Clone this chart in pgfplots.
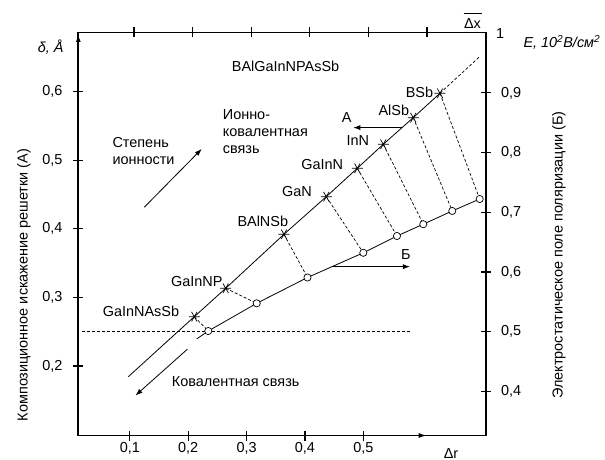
\documentclass[border=0pt]{standalone}
\usepackage{pgfplots}
\pgfplotsset{compat=1.18}
\usepackage{fontspec}
\setmainfont{Liberation Sans}
\usetikzlibrary{arrows.meta}

\begin{document}
\begin{tikzpicture}[font=\fontsize{14.5}{17}\selectfont,
  every node/.append style={inner sep=0pt},
  >={Latex[length=7bp,width=5bp]}]

% main axis: delta (A) against Delta r
\begin{axis}[
  at={(78.3bp,-435.5bp)}, anchor=south west,
  scale only axis, width=407.4bp, height=403.2bp,
  xmin=0.01165, xmax=0.7096, ymin=0.0987, ymax=0.6864,
  axis line style={line width=1.6bp},
  xtick={0.1,0.2,0.3,0.4,0.5},
  xticklabels={{0,1},{0,2},{0,3},{0,4},{0,5}},
  ytick={0.2,0.3,0.4,0.5,0.6},
  yticklabels={{0,2},{0,3},{0,4},{0,5},{0,6}},
  xtick pos=left, ytick pos=left,
  tick align=center, major tick length=10bp,
  tick style={line width=1.2bp, black},
  xticklabel style={anchor=north, yshift=-1.5bp},
  yticklabel style={anchor=east, xshift=-10.6bp},
  clip=false,
]
  % reference level
  \addplot[black, line width=0.7bp, dash pattern=on 3bp off 2bp]
    coordinates {(0.0185,0.25) (0.58,0.25)};

  % star -> circle links
  \addplot[black, line width=0.7bp, dash pattern=on 3bp off 2bp] coordinates {(0.2104,0.2719) (0.2343,0.251)};
  \addplot[black, line width=0.7bp, dash pattern=on 3bp off 2bp] coordinates {(0.2642,0.3133) (0.3173,0.2914)};
  \addplot[black, line width=0.7bp, dash pattern=on 3bp off 2bp] coordinates {(0.364,0.392) (0.4043,0.329)};
  \addplot[black, line width=0.7bp, dash pattern=on 3bp off 2bp] coordinates {(0.4365,0.4468) (0.4999,0.365)};
  \addplot[black, line width=0.7bp, dash pattern=on 3bp off 2bp] coordinates {(0.4896,0.4882) (0.5576,0.3895)};
  \addplot[black, line width=0.7bp, dash pattern=on 3bp off 2bp] coordinates {(0.5341,0.5232) (0.6027,0.4067)};
  \addplot[black, line width=0.7bp, dash pattern=on 3bp off 2bp] coordinates {(0.5855,0.562) (0.6523,0.426)};
  \addplot[black, line width=0.7bp, dash pattern=on 3bp off 2bp] coordinates {(0.6313,0.5975) (0.6993,0.4434)};

  % line A
  \addplot[black, line width=0.8bp] coordinates {
    (0.0973,0.1844) (0.2104,0.2719) (0.2642,0.3133) (0.364,0.392) (0.4365,0.4468)
    (0.4896,0.4882) (0.5341,0.5232) (0.5855,0.562) (0.6313,0.5975)};
  \addplot[black, line width=0.7bp, dash pattern=on 3bp off 2bp]
    coordinates {(0.6313,0.5975) (0.698,0.65)};

  % line B
  \addplot[black, line width=0.8bp] coordinates {
    (0.2145,0.2395) (0.2343,0.251) (0.3173,0.2914) (0.4043,0.329) (0.4999,0.365)
    (0.5576,0.3895) (0.6027,0.4067) (0.6523,0.426) (0.6993,0.4434)};

  % stars (A)
  \addplot[only marks, mark=asterisk, mark size=5.5bp, mark options={black, line width=0.7bp, rotate=90}]
    coordinates {(0.2104,0.2719) (0.2642,0.3133) (0.364,0.392) (0.4365,0.4468)
    (0.4896,0.4882) (0.5341,0.5232) (0.5855,0.562) (0.6313,0.5975)};
  % circles (B)
  \addplot[only marks, mark=*, mark size=3.6bp, mark options={draw=black, fill=white, line width=0.7bp}]
    coordinates {(0.2343,0.251) (0.3173,0.2914) (0.4043,0.329) (0.4999,0.365)
    (0.5576,0.3895) (0.6027,0.4067) (0.6523,0.426) (0.6993,0.4434)};

  % compound labels
  \node[anchor=east] at (axis cs:0.1847,0.2792) {GaInNAsSb};
  \node[anchor=east] at (axis cs:0.259,0.3229) {GaInNP};
  \node[anchor=east] at (axis cs:0.3714,0.4104) {BAlNSb};
  \node[anchor=east] at (axis cs:0.412,0.4542) {GaN};
  \node[anchor=east] at (axis cs:0.4656,0.4931) {GaInN};
  \node[anchor=east] at (axis cs:0.5101,0.5281) {InN};
  \node[anchor=east] at (axis cs:0.5787,0.5733) {AlSb};
  \node[anchor=east] at (axis cs:0.6198,0.5985) {BSb};

  \node[anchor=west] at (axis cs:0.2744,0.6375) {BAlGaInNPAsSb};
  \node[anchor=west, align=left] at (axis cs:0.259,0.5412) {Ионно-\\ковалентная\\связь};
  \node[anchor=west, align=left] at (axis cs:0.0699,0.5132) {Степень\\ионности};
  \node[anchor=west] at (axis cs:0.1716,0.1771) {Ковалентная связь};
  \node at (axis cs:0.4714,0.5627) {А};
  \node at (axis cs:0.5727,0.3619) {Б};

  % arrows
  \draw[->, line width=0.8bp] (axis cs:0.5656,0.5475) -- (axis cs:0.4827,0.5475);
  \draw[->, line width=0.8bp] (axis cs:0.4485,0.3448) -- (axis cs:0.5799,0.3448);
  \draw[->, line width=0.8bp] (axis cs:0.1247,0.4314) -- (axis cs:0.2231,0.5164);
  \draw[->, line width=0.8bp] (axis cs:0.1984,0.2244) -- (axis cs:0.1096,0.157);

  % axis arrow heads
  \draw[-{Latex[length=7bp,width=5bp]}, line width=1.2bp] (axis cs:0.01165,0.66) -- (axis cs:0.01165,0.6826);
  \draw[-{Latex[length=8bp,width=5bp]}, line width=1.2bp] (axis cs:0.58,0.0987) -- (axis cs:0.6085,0.0987);
\end{axis}

% second axis: Delta x (top) and E (right)
\begin{axis}[
  at={(78.3bp,-435.5bp)}, anchor=south west,
  scale only axis, width=407.4bp, height=403.2bp,
  xmin=0.305, xmax=1.0, ymin=0.3261, ymax=1.0015,
  axis x line*=top, axis y line*=right,
  axis line style={line width=1.6bp},
  xtick={0.4,0.5,0.6,0.7,0.8,0.9}, xticklabels={},
  ytick={0.4,0.5,0.6,0.7,0.8,0.9},
  yticklabels={{0,4},{0,5},{0,6},{0,7},{0,8},{0,9}},
  extra y ticks={1}, extra y tick labels={1},
  extra y tick style={major tick length=0pt},
  tick align=center, major tick length=10bp,
  tick style={line width=1.2bp, black},
  yticklabel style={anchor=west, xshift=10.3bp},
]
\end{axis}

% axis titles
\node[anchor=base west] at (37.7bp,-52bp) {\itshape δ, Å};
\node[anchor=base west] at (523.3bp,-47.7bp) {\itshape E, 10\textsuperscript{2}B/см\textsuperscript{2}};
\node[anchor=base] at (472.5bp,-28.3bp) {Δx};
\draw[line width=0.8bp] (463.5bp,-13.3bp) -- (481.5bp,-13.3bp);
\node[anchor=base] at (451bp,-458bp) {Δr};
\node[rotate=90] at (24bp,-285bp) {Композиционное искажение решетки (А)};
\node[rotate=90] at (559bp,-255bp) {Электростатическое поле поляризации (Б)};

\pgfresetboundingbox
\path[use as bounding box] (0,0) rectangle (605bp,-460bp);
\end{tikzpicture}
\end{document}
